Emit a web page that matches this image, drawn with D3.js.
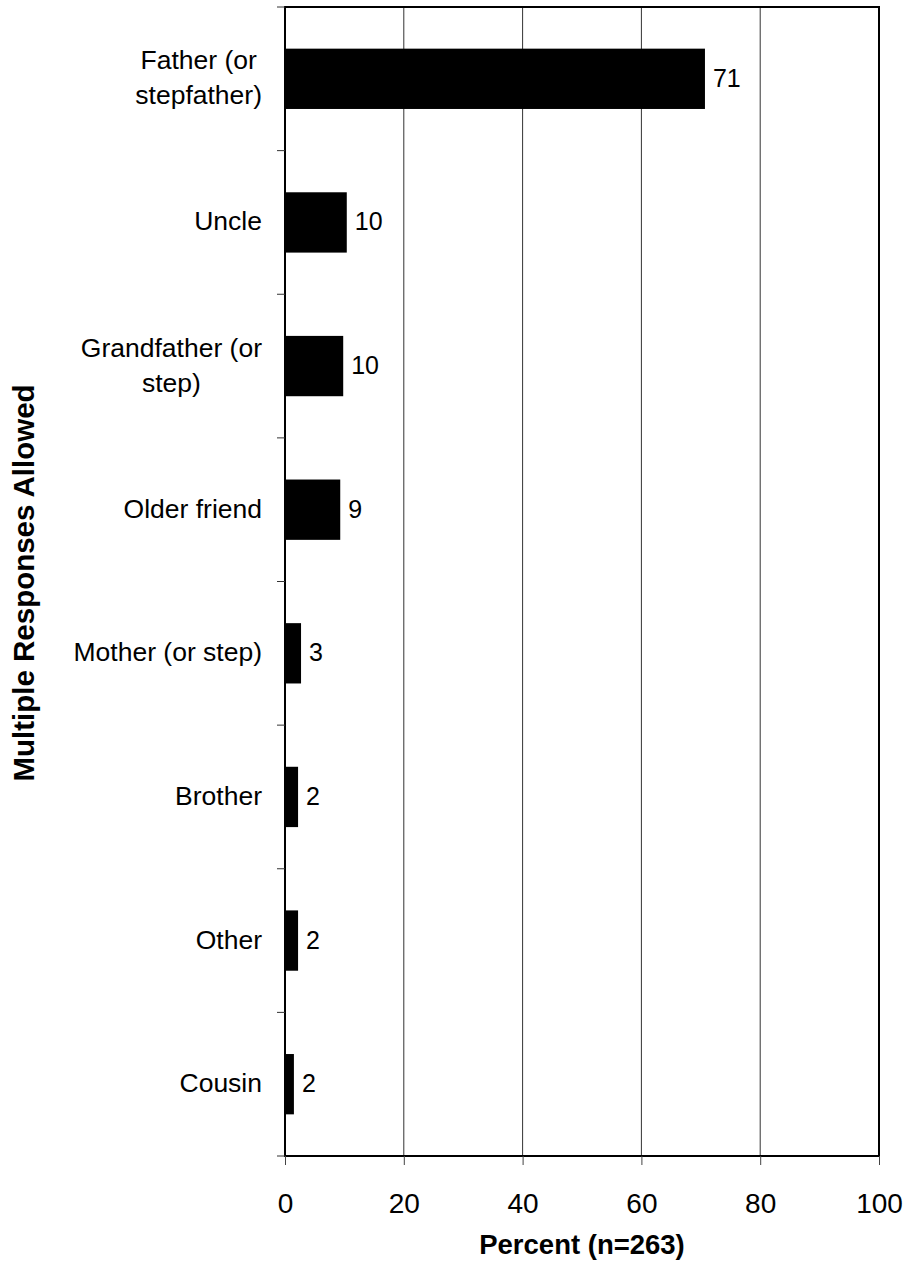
<!DOCTYPE html>
<html><head><meta charset="utf-8">
<script src="https://cdn.jsdelivr.net/npm/d3@7"></script>
<style>body{margin:0;background:#fff}text{font-family:"Liberation Sans",Arial,sans-serif;fill:#000}</style>
</head><body>
<svg id="c" width="908" height="1268"></svg>
<script>
const categories = ["Father (or\nstepfather)", "Uncle", "Grandfather (or\nstep)", "Older friend", "Mother (or step)", "Brother", "Other", "Cousin"];
const values = [70.7, 10.4, 9.8, 9.3, 2.7, 2.2, 2.2, 1.5];
const valueLabels = ["71", "10", "10", "9", "3", "2", "2", "2"];
const xTicks = [0, 20, 40, 60, 80, 100];

const svg = d3.select("#c");
const L = 285, R = 879, T = 7, B = 1156;
const x = d3.scaleLinear().domain([0, 100]).range([L, R]);
const y = d3.scaleBand().domain(categories).range([T, B]).paddingInner(0.58).paddingOuter(0.29);
const step = y.step();

// gridlines
svg.append("g").selectAll("line").data(xTicks.filter(d => d > 0 && d < 100)).join("line")
  .attr("x1", d => x(d)).attr("x2", d => x(d)).attr("y1", T).attr("y2", B)
  .attr("stroke", "#333").attr("stroke-width", 1);

// bars
svg.append("g").selectAll("rect").data(values).join("rect")
  .attr("x", L).attr("y", (d, i) => y(categories[i]))
  .attr("width", d => x(d) - L).attr("height", y.bandwidth()).attr("fill", "#000");

// plot frame
svg.append("rect").attr("x", L).attr("y", T).attr("width", R - L).attr("height", B - T)
  .attr("fill", "none").attr("stroke", "#000").attr("stroke-width", 2);

// y boundary ticks
const bounds = d3.range(categories.length + 1).map(i => T + i * step);
svg.append("g").selectAll("line").data(bounds).join("line")
  .attr("x1", L - 8).attr("x2", L).attr("y1", d => d).attr("y2", d => d)
  .attr("stroke", "#333").attr("stroke-width", 1);

// x axis
const xAxis = d3.axisBottom(x).tickValues(xTicks).tickSize(9).tickPadding(28);
const gx = svg.append("g").attr("transform", `translate(0,${B})`).call(xAxis);
gx.select(".domain").remove();
gx.selectAll(".tick line").attr("stroke", "#444");
gx.selectAll(".tick text").attr("font-size", 28).attr("font-family", '"Liberation Sans",Arial,sans-serif').attr("fill", "#000");

// category labels
categories.forEach((c, i) => {
  const lines = c.split("\n");
  const cy = y(c) + y.bandwidth() / 2;
  const lh = 35;
  const t = svg.append("text").attr("font-size", 26.5).attr("text-anchor", "middle");
  lines.forEach((ln, j) => {
    t.append("tspan").attr("x", 0).attr("y", cy + 8 + (j - (lines.length - 1) / 2) * lh).text(ln);
  });
  let w = 0;
  t.selectAll("tspan").each(function() { w = Math.max(w, this.getComputedTextLength()); });
  t.selectAll("tspan").attr("x", 262 - w / 2);
});

// value labels
svg.append("g").selectAll("text").data(values).join("text")
  .attr("x", d => x(d) + 8).attr("y", (d, i) => y(categories[i]) + y.bandwidth() / 2 + 8)
  .attr("font-size", 25).text((d, i) => valueLabels[i]);

// axis titles
svg.append("text").attr("x", (L + R) / 2).attr("y", 1254).attr("text-anchor", "middle")
  .attr("font-size", 27.5).attr("font-weight", "bold").text("Percent (n=263)");
svg.append("text").attr("transform", `translate(34,583) rotate(-90)`).attr("text-anchor", "middle")
  .attr("font-size", 29.5).attr("font-weight", "bold").text("Multiple Responses Allowed");
</script>
</body></html>
